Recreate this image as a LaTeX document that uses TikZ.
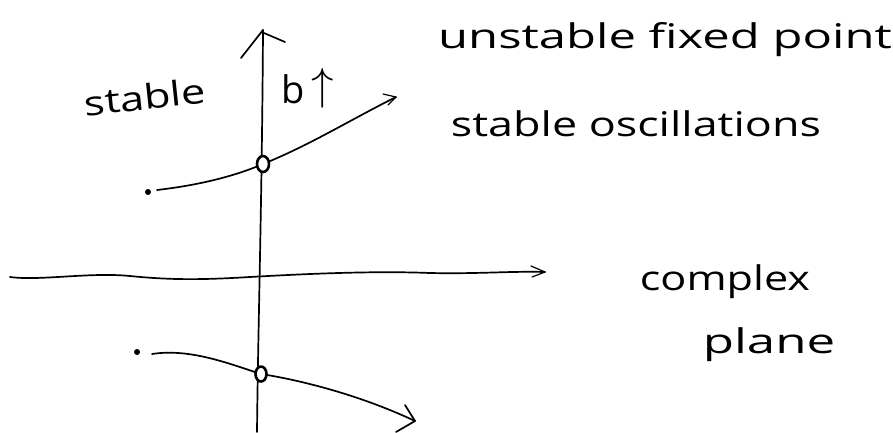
\documentclass[tikz,border=0pt]{standalone}
\usepackage{fontspec}
\setmainfont{Open Sans}
\usetikzlibrary{arrows.meta,shapes.geometric}
\newcommand{\stretchtxt}[2]{\scalebox{#1}[1]{#2}}
\begin{document}
\begin{tikzpicture}[x=1pt,y=-1pt,line cap=round,line join=round,
  stroke/.style={line width=1.7pt,black},
  thin stroke/.style={line width=1.2pt,black},
  lbl/.style={font=\fontsize{34}{38}\selectfont,inner sep=0pt,align=center},
  fixpt/.style={draw,line width=2.6pt,ellipse,minimum width=12pt,minimum height=16pt,inner sep=0pt,fill=white},
  startdot/.style={circle,fill=black,minimum size=6pt,inner sep=0pt}]
\useasboundingbox (0,0) rectangle (893,432);
% vertical axis
\coordinate (vtop) at (263,30);
\coordinate (vbot) at (257,432);
\draw[stroke] (vbot) .. controls (258,330) and (262,200) .. (vtop);
\draw[stroke] (241,58) -- (vtop);
\draw[stroke] (264,33) -- (285,42);
% horizontal axis
\coordinate (hleft) at (10,277);
\coordinate (hright) at (545,272);
\draw[stroke] (hleft) .. controls (40,281) and (90,272) .. (130,276)
  .. controls (170,280) and (200,280) .. (250,277)
  .. controls (320,273) and (380,271) .. (430,273)
  .. controls (480,274) and (510,271) .. (hright);
\draw[thin stroke] (531,266) -- (hright) -- (532,277);
% upper branch
\node[startdot] (d1) at (148,192) {};
\coordinate (c1s) at (157,190);
\coordinate (u1) at (396,97);
\draw[stroke] (c1s) .. controls (200,185) and (235,176) .. (263,164)
  .. controls (310,145) and (350,120) .. (u1);
\draw[thin stroke] (383,94) -- (u1) -- (388,105);
\node[fixpt] (p1) at (263,164) {};
% lower branch
\node[startdot] (d2) at (137,352) {};
\coordinate (c2s) at (152,354);
\coordinate (u2) at (415,421);
\draw[stroke] (c2s) .. controls (190,348) and (230,364) .. (261,374)
  .. controls (300,380) and (360,395) .. (u2);
\draw[stroke] (405,405) -- (u2) -- (396,432);
\node[fixpt,minimum width=11pt,minimum height=15pt] (p2) at (261,374) {};
% labels
\node[lbl,rotate=6] (stable) at (145,97) {\stretchtxt{1.28}{stable}};
\node[lbl,font=\fontsize{38}{40}\selectfont] (b) at (308,88) {b\,\raisebox{4pt}{\scalebox{1.8}{$\uparrow$}}};
\node[lbl] (unstable) at (665,40) {\stretchtxt{1.44}{unstable fixed point}};
\node[lbl] (osc) at (636,124) {\stretchtxt{1.32}{stable oscillations}};
\node[lbl] (cplx) at (725,282) {\stretchtxt{1.27}{complex}};
\node[lbl] (plane) at (769,345) {\stretchtxt{1.5}{plane}};
\end{tikzpicture}
\end{document}
